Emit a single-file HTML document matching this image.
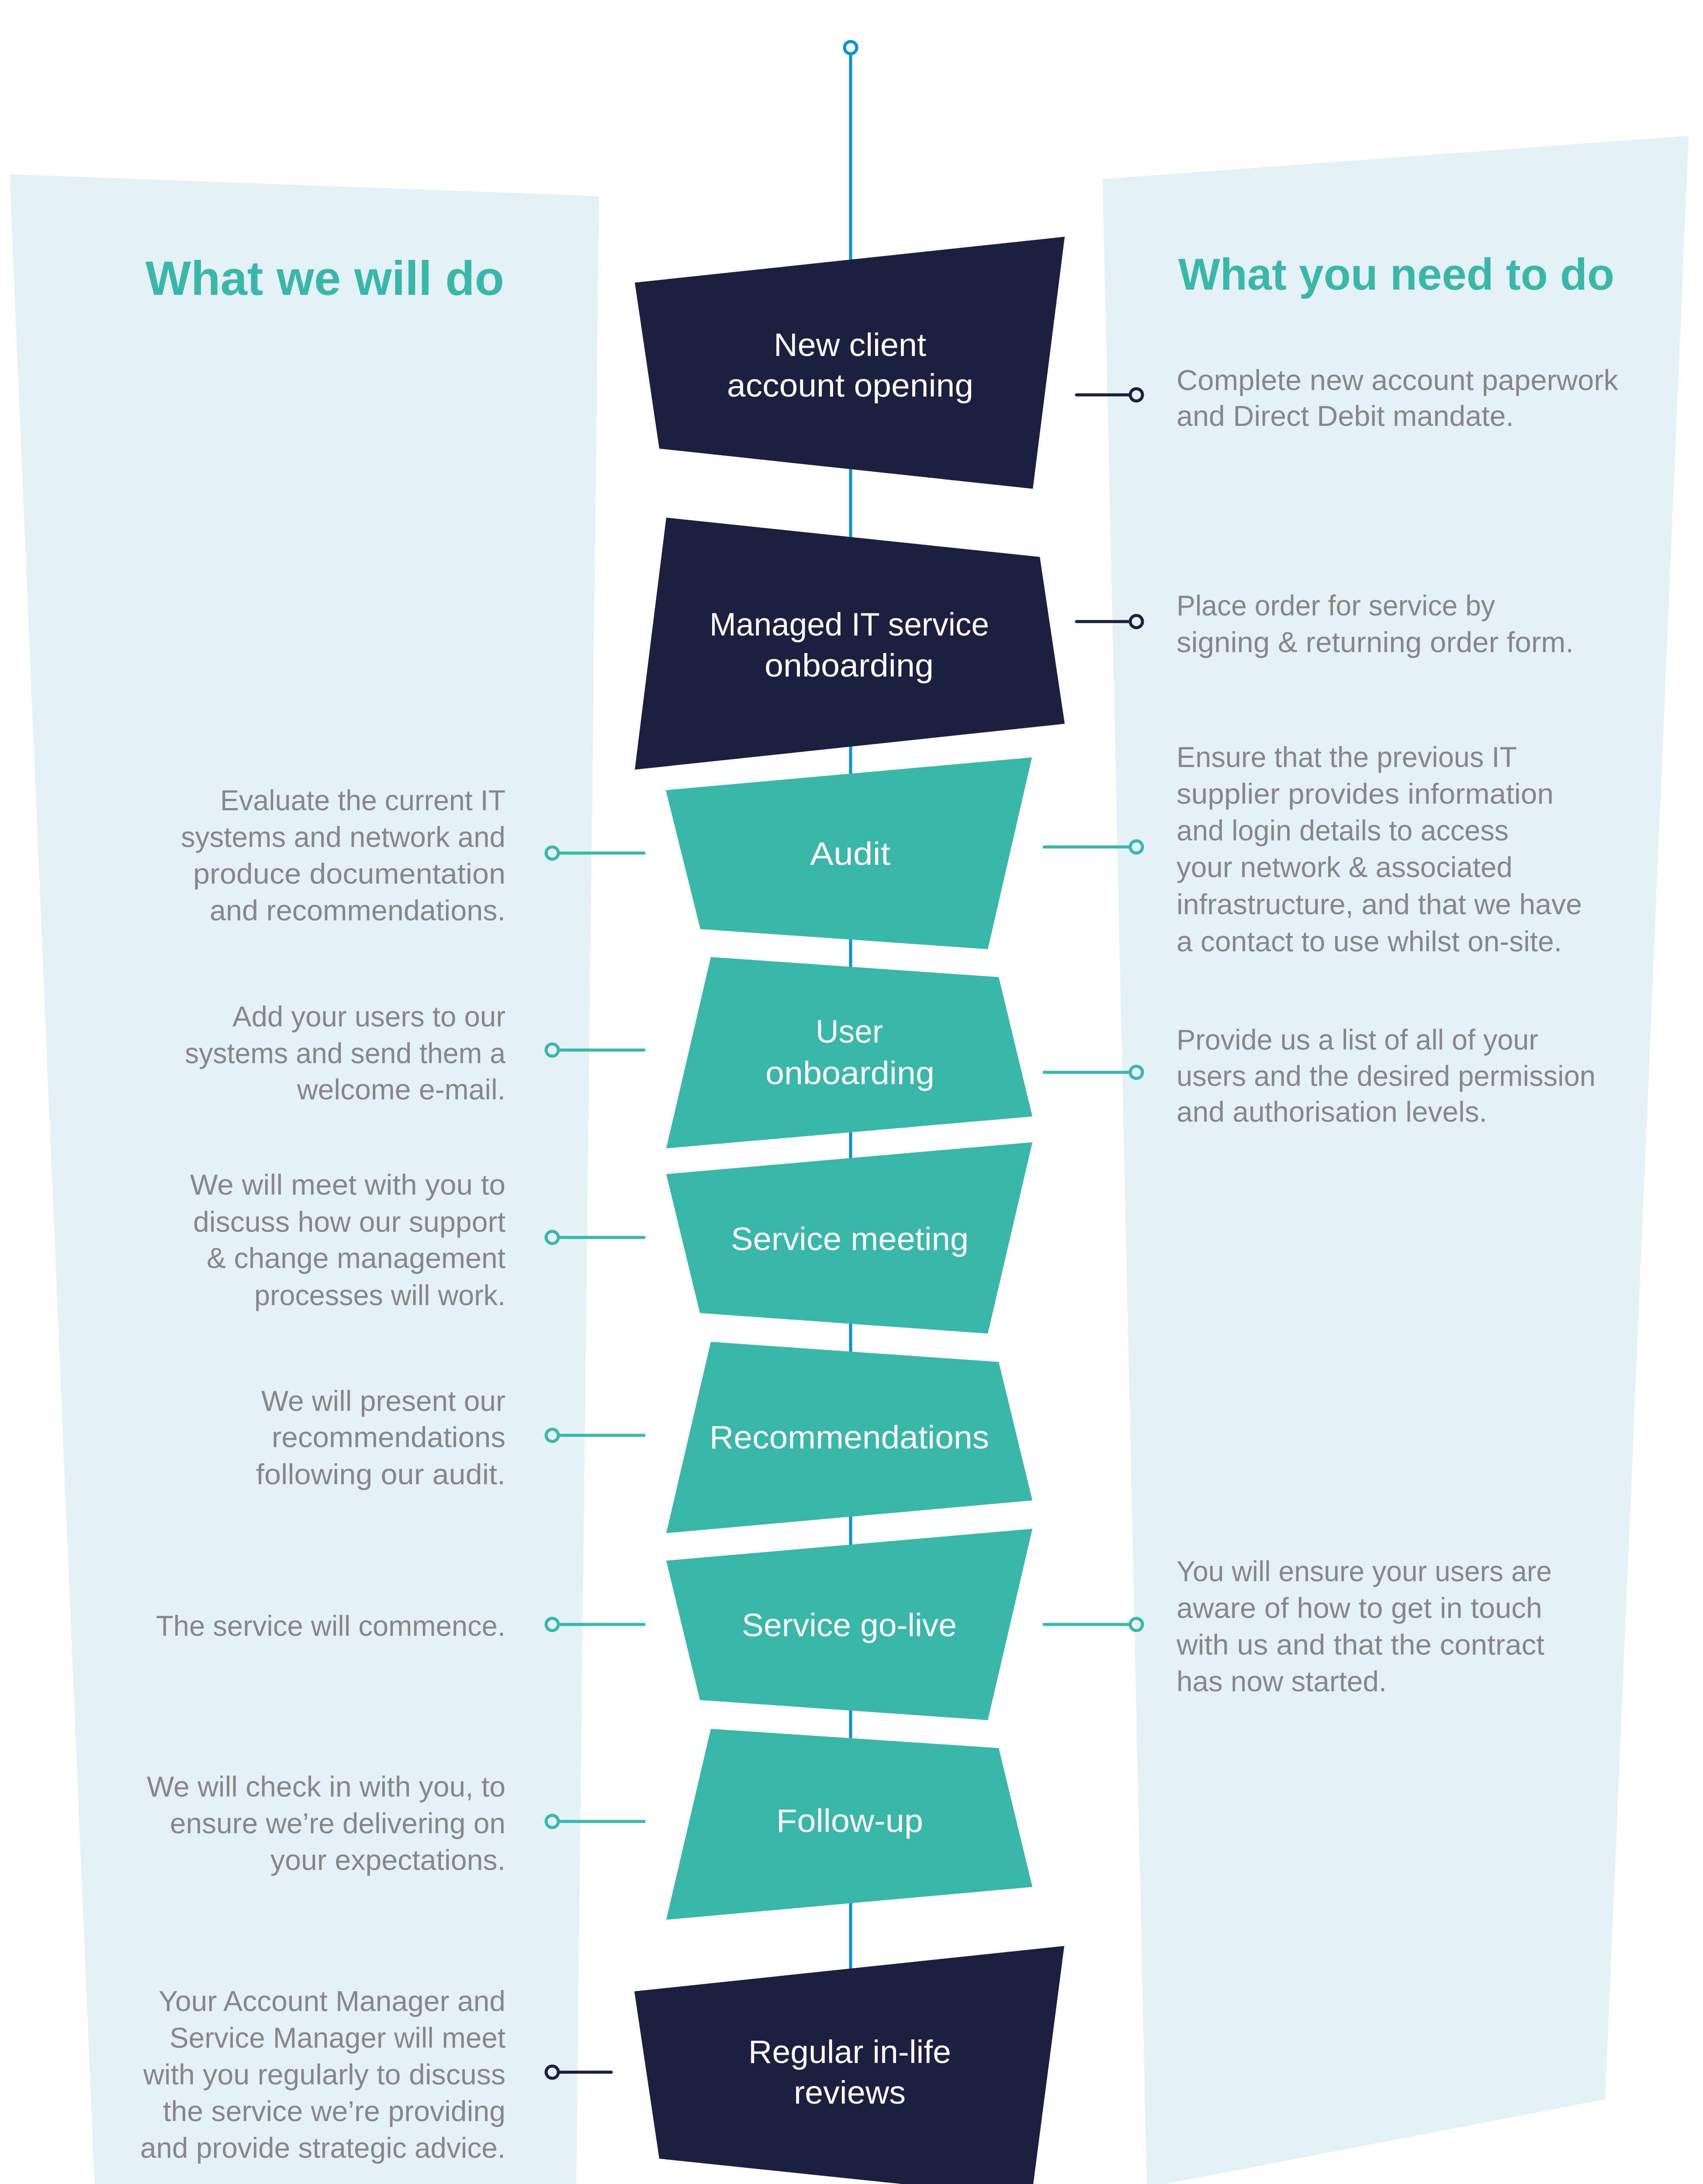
<!DOCTYPE html>
<html>
<head>
<meta charset="utf-8">
<style>
html,body{margin:0;padding:0;background:#ffffff;width:3898px;height:5315px;overflow:hidden;}
svg{display:block;position:absolute;left:0;top:0;}
.body{font-family:"Liberation Sans",Arial,sans-serif;font-size:66px;fill:#87878a;}
.lbl{font-family:"Liberation Sans",Arial,sans-serif;font-size:74px;fill:#ffffff;}
.hd{font-family:"Liberation Sans",Arial,sans-serif;font-weight:bold;fill:#3bb7a9;}
</style>
</head>
<body>
<svg width="3898" height="5315" viewBox="0 0 3898 5315" xmlns="http://www.w3.org/2000/svg">
  <rect x="0" y="0" width="3898" height="5315" fill="#ffffff"/>

  <!-- side panels -->
  <polygon points="22,399 1371,449 1317,5161 219,5060" fill="#e4f1f7"/>
  <polygon points="2524,410 3865,311 3674,4806 2625,5008" fill="#e4f1f7"/>

  <!-- headings -->
  <text class="hd" x="333" y="675" font-size="110" textLength="821" lengthAdjust="spacingAndGlyphs">What we will do</text>
  <text class="hd" x="2697" y="663" font-size="102" textLength="998" lengthAdjust="spacingAndGlyphs">What you need to do</text>

  <!-- vertical spine -->
  <line x1="1947" y1="123" x2="1947" y2="4530" stroke="#0b93cc" stroke-width="7"/>
  <circle cx="1947" cy="109" r="14" fill="#ffffff" stroke="#0b93cc" stroke-width="7"/>

  <!-- boxes -->
  <polygon points="1453,647 2437,542 2364,1119 1509,1027" fill="#1c1f3d"/>
  <polygon points="1525,1185 2380,1275 2437,1657 1453,1762" fill="#1c1f3d"/>
  <polygon points="1524,1809 2362,1734 2261,2173 1603,2127" fill="#3ab6aa"/>
  <polygon points="1627,2191 2286,2237 2363,2556 1525,2629" fill="#3ab6aa"/>
  <polygon points="1525,2688 2363,2615 2261,3053 1602,3006" fill="#3ab6aa"/>
  <polygon points="1627,3072 2286,3118 2363,3435 1525,3510" fill="#3ab6aa"/>
  <polygon points="1525,3573 2363,3500 2261,3938 1602,3892" fill="#3ab6aa"/>
  <polygon points="1627,3958 2286,4002 2363,4320 1525,4395" fill="#3ab6aa"/>
  <polygon points="1452,4559 2436,4455 2361,5031 1509,4942" fill="#1c1f3d"/>

  <!-- box labels -->
  <text class="lbl" x="1771" y="815" textLength="349" lengthAdjust="spacingAndGlyphs">New client</text>
  <text class="lbl" x="1664" y="908" textLength="564" lengthAdjust="spacingAndGlyphs">account opening</text>
  <text class="lbl" x="1624" y="1455" textLength="640" lengthAdjust="spacingAndGlyphs">Managed IT service</text>
  <text class="lbl" x="1750" y="1549" textLength="387" lengthAdjust="spacingAndGlyphs">onboarding</text>
  <text class="lbl" x="1854" y="1980" textLength="184" lengthAdjust="spacingAndGlyphs">Audit</text>
  <text class="lbl" x="1867" y="2387" textLength="154" lengthAdjust="spacingAndGlyphs">User</text>
  <text class="lbl" x="1752" y="2482" textLength="387" lengthAdjust="spacingAndGlyphs">onboarding</text>
  <text class="lbl" x="1673" y="2862" textLength="544" lengthAdjust="spacingAndGlyphs">Service meeting</text>
  <text class="lbl" x="1624" y="3316" textLength="640" lengthAdjust="spacingAndGlyphs">Recommendations</text>
  <text class="lbl" x="1698" y="3746" textLength="492" lengthAdjust="spacingAndGlyphs">Service go-live</text>
  <text class="lbl" x="1777" y="4194" textLength="336" lengthAdjust="spacingAndGlyphs">Follow-up</text>
  <text class="lbl" x="1713" y="4723" textLength="464" lengthAdjust="spacingAndGlyphs">Regular in-life</text>
  <text class="lbl" x="1817" y="4816" textLength="256" lengthAdjust="spacingAndGlyphs">reviews</text>

  <!-- connectors: right side -->
  <g fill="none" stroke-width="7" stroke-linecap="round">
    <line x1="2464" y1="904" x2="2586" y2="904" stroke="#1c1f3d"/>
    <circle cx="2601" cy="904" r="14" stroke="#1c1f3d"/>
    <line x1="2464" y1="1423" x2="2586" y2="1423" stroke="#1c1f3d"/>
    <circle cx="2601" cy="1423" r="14" stroke="#1c1f3d"/>
    <line x1="2390" y1="1939" x2="2586" y2="1939" stroke="#3ab6aa"/>
    <circle cx="2601" cy="1939" r="14" stroke="#3ab6aa"/>
    <line x1="2390" y1="2455" x2="2586" y2="2455" stroke="#3ab6aa"/>
    <circle cx="2601" cy="2455" r="14" stroke="#3ab6aa"/>
    <line x1="2390" y1="3719" x2="2586" y2="3719" stroke="#3ab6aa"/>
    <circle cx="2601" cy="3719" r="14" stroke="#3ab6aa"/>
  </g>
  <!-- connectors: left side -->
  <g fill="none" stroke-width="7" stroke-linecap="round">
    <line x1="1278" y1="1953" x2="1474" y2="1953" stroke="#3ab6aa"/>
    <circle cx="1264" cy="1953" r="14" stroke="#3ab6aa"/>
    <line x1="1278" y1="2404" x2="1474" y2="2404" stroke="#3ab6aa"/>
    <circle cx="1264" cy="2404" r="14" stroke="#3ab6aa"/>
    <line x1="1278" y1="2833" x2="1474" y2="2833" stroke="#3ab6aa"/>
    <circle cx="1264" cy="2833" r="14" stroke="#3ab6aa"/>
    <line x1="1278" y1="3286" x2="1474" y2="3286" stroke="#3ab6aa"/>
    <circle cx="1264" cy="3286" r="14" stroke="#3ab6aa"/>
    <line x1="1278" y1="3719" x2="1474" y2="3719" stroke="#3ab6aa"/>
    <circle cx="1264" cy="3719" r="14" stroke="#3ab6aa"/>
    <line x1="1278" y1="4170" x2="1474" y2="4170" stroke="#3ab6aa"/>
    <circle cx="1264" cy="4170" r="14" stroke="#3ab6aa"/>
    <line x1="1278" y1="4744" x2="1399" y2="4744" stroke="#1c1f3d"/>
    <circle cx="1264" cy="4744" r="14" stroke="#1c1f3d"/>
  </g>

  <!-- left column text -->
  <g class="body">
    <text x="504" y="1855" textLength="653" lengthAdjust="spacingAndGlyphs">Evaluate the current IT</text>
    <text x="414" y="1939" textLength="743" lengthAdjust="spacingAndGlyphs">systems and network and</text>
    <text x="442" y="2023" textLength="715" lengthAdjust="spacingAndGlyphs">produce documentation</text>
    <text x="480" y="2107" textLength="677" lengthAdjust="spacingAndGlyphs">and recommendations.</text>

    <text x="532" y="2350" textLength="625" lengthAdjust="spacingAndGlyphs">Add your users to our</text>
    <text x="423" y="2434" textLength="734" lengthAdjust="spacingAndGlyphs">systems and send them a</text>
    <text x="680" y="2517" textLength="477" lengthAdjust="spacingAndGlyphs">welcome e-mail.</text>

    <text x="435" y="2735" textLength="722" lengthAdjust="spacingAndGlyphs">We will meet with you to</text>
    <text x="442" y="2820" textLength="715" lengthAdjust="spacingAndGlyphs">discuss how our support</text>
    <text x="473" y="2903" textLength="684" lengthAdjust="spacingAndGlyphs">&amp; change management</text>
    <text x="582" y="2988" textLength="575" lengthAdjust="spacingAndGlyphs">processes will work.</text>

    <text x="598" y="3230" textLength="559" lengthAdjust="spacingAndGlyphs">We will present our</text>
    <text x="622" y="3313" textLength="535" lengthAdjust="spacingAndGlyphs">recommendations</text>
    <text x="586" y="3398" textLength="571" lengthAdjust="spacingAndGlyphs">following our audit.</text>

    <text x="357" y="3745" textLength="800" lengthAdjust="spacingAndGlyphs">The service will commence.</text>

    <text x="336" y="4113" textLength="821" lengthAdjust="spacingAndGlyphs">We will check in with you, to</text>
    <text x="389" y="4197" textLength="768" lengthAdjust="spacingAndGlyphs">ensure we’re delivering on</text>
    <text x="619" y="4281" textLength="538" lengthAdjust="spacingAndGlyphs">your expectations.</text>

    <text x="363" y="4604" textLength="794" lengthAdjust="spacingAndGlyphs">Your Account Manager and</text>
    <text x="388" y="4688" textLength="769" lengthAdjust="spacingAndGlyphs">Service Manager will meet</text>
    <text x="328" y="4772" textLength="829" lengthAdjust="spacingAndGlyphs">with you regularly to discuss</text>
    <text x="373" y="4856" textLength="784" lengthAdjust="spacingAndGlyphs">the service we’re providing</text>
    <text x="321" y="4940" textLength="836" lengthAdjust="spacingAndGlyphs">and provide strategic advice.</text>
  </g>

  <!-- right column text -->
  <g class="body">
    <text x="2693" y="893" textLength="1011" lengthAdjust="spacingAndGlyphs">Complete new account paperwork</text>
    <text x="2693" y="975" textLength="772" lengthAdjust="spacingAndGlyphs">and Direct Debit mandate.</text>

    <text x="2693" y="1409" textLength="729" lengthAdjust="spacingAndGlyphs">Place order for service by</text>
    <text x="2693" y="1493" textLength="909" lengthAdjust="spacingAndGlyphs">signing &amp; returning order form.</text>

    <text x="2693" y="1756" textLength="779" lengthAdjust="spacingAndGlyphs">Ensure that the previous IT</text>
    <text x="2693" y="1840" textLength="863" lengthAdjust="spacingAndGlyphs">supplier provides information</text>
    <text x="2693" y="1924" textLength="760" lengthAdjust="spacingAndGlyphs">and login details to access</text>
    <text x="2693" y="2008" textLength="769" lengthAdjust="spacingAndGlyphs">your network &amp; associated</text>
    <text x="2693" y="2093" textLength="928" lengthAdjust="spacingAndGlyphs">infrastructure, and that we have</text>
    <text x="2693" y="2178" textLength="882" lengthAdjust="spacingAndGlyphs">a contact to use whilst on-site.</text>

    <text x="2693" y="2403" textLength="828" lengthAdjust="spacingAndGlyphs">Provide us a list of all of your</text>
    <text x="2693" y="2486" textLength="959" lengthAdjust="spacingAndGlyphs">users and the desired permission</text>
    <text x="2693" y="2568" textLength="711" lengthAdjust="spacingAndGlyphs">and authorisation levels.</text>

    <text x="2693" y="3620" textLength="859" lengthAdjust="spacingAndGlyphs">You will ensure your users are</text>
    <text x="2693" y="3704" textLength="837" lengthAdjust="spacingAndGlyphs">aware of how to get in touch</text>
    <text x="2693" y="3788" textLength="842" lengthAdjust="spacingAndGlyphs">with us and that the contract</text>
    <text x="2693" y="3872" textLength="481" lengthAdjust="spacingAndGlyphs">has now started.</text>
  </g>
</svg>
</body>
</html>
